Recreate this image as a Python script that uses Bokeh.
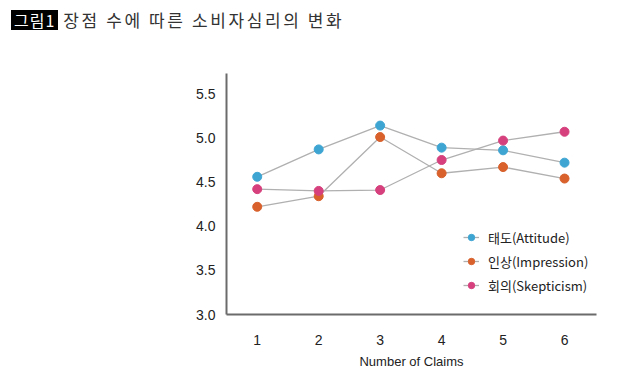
from bokeh.plotting import figure
from bokeh.models import Range1d, FixedTicker, Legend, LegendItem, Div
from bokeh.layouts import column
from bokeh.embed import file_html
from bokeh.resources import INLINE

claims = [1, 2, 3, 4, 5, 6]
attitude = [4.56, 4.87, 5.14, 4.89, 4.86, 4.72]
impression = [4.22, 4.34, 5.01, 4.60, 4.67, 4.54]
skepticism = [4.42, 4.40, 4.41, 4.75, 4.97, 5.07]
series_names = ["태도(Attitude)", "인상(Impression)", "회의(Skepticism)"]
series_colors = ["#3ea5d3", "#d8612c", "#d6407d"]
y_ticks = [3.0, 3.5, 4.0, 4.5, 5.0, 5.5]
title_tag = "그림1"
title_text = "장점 수에 따른 소비자심리의 변화"
x_label = "Number of Claims"

title_html = (
    '<div style="padding:10px 0 0 11px; font-family:\'Noto Sans CJK KR\'; '
    'font-size:16px; line-height:20px; color:#333333; white-space:nowrap;">'
    '<span style="background:#000000; color:#ffffff; padding:0 3px; letter-spacing:1px; '
    'display:inline-block; height:20px;">' + title_tag + '</span>'
    '<span style="margin-left:5px; font-size:17px; letter-spacing:2.6px;">'
    + title_text + '</span></div>'
)
head = Div(text=title_html, width=632, height=73, margin=0)

p = figure(width=632, height=300, output_backend="svg", toolbar_location=None,
           x_range=Range1d(0.5, 6.52), y_range=Range1d(3.0, 5.73),
           min_border_left=226, min_border_right=36, min_border_top=0,
           min_border_bottom=59, margin=0)
p.outline_line_color = None
p.grid.visible = False
p.background_fill_color = "white"

for ax in (p.xaxis, p.yaxis):
    ax.axis_line_color = "#6b6b6b"
    ax.axis_line_width = 2
    ax.major_tick_line_color = None
    ax.minor_tick_line_color = None
    ax.major_label_text_font = "Liberation Sans"
    ax.major_label_text_font_size = "14px"
    ax.major_label_text_color = "#222222"

p.xaxis.ticker = FixedTicker(ticks=claims)
p.yaxis.ticker = FixedTicker(ticks=y_ticks)
p.yaxis.major_label_overrides = {t: f"{t:.1f}" for t in y_ticks}
p.xaxis.major_label_standoff = 14
p.yaxis.major_label_standoff = 5
p.xaxis.axis_label = x_label
p.xaxis.axis_label_text_font = "Liberation Sans"
p.xaxis.axis_label_text_font_size = "13px"
p.xaxis.axis_label_text_font_style = "normal"
p.xaxis.axis_label_text_color = "#222222"
p.xaxis.axis_label_standoff = 6

items = []
for name, vals, col in zip(series_names, [attitude, impression, skepticism], series_colors):
    ln = p.line(claims, vals, line_color="#b0b0b0", line_width=1.3)
    sc = p.scatter(claims, vals, size=9, fill_color=col, line_color=col)
    items.append(LegendItem(label=name, renderers=[ln, sc]))

legend = Legend(items=items, location=(237, 17), orientation="vertical",
                padding=0, margin=0, spacing=0, glyph_width=16, glyph_height=24,
                label_height=24, label_standoff=9,
                label_text_font="Noto Sans CJK KR", label_text_font_size="13px",
                label_text_color="#222222",
                border_line_color=None, background_fill_alpha=0)
p.add_layout(legend, "center")

layout = column(head, p, spacing=0)
open("out.html", "w").write(file_html(layout, INLINE))
